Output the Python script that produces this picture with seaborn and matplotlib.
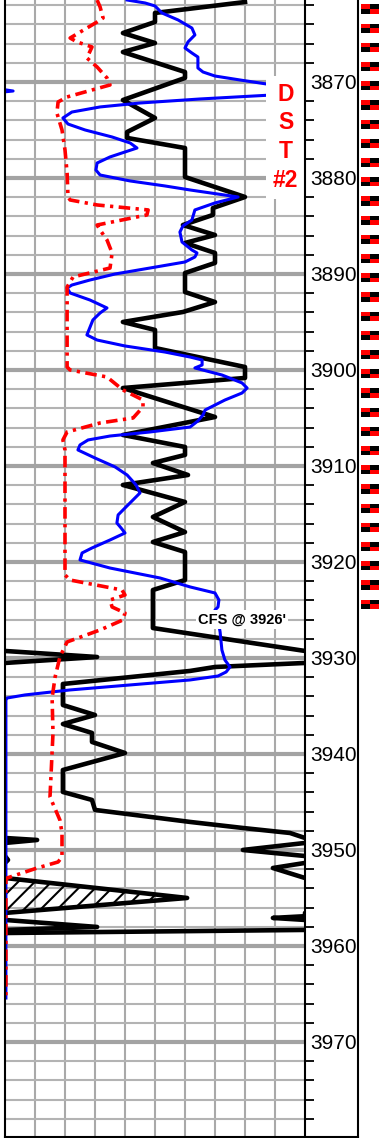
import numpy as np
import pandas as pd
import seaborn as sns
import matplotlib
matplotlib.use("Agg")
import matplotlib.pyplot as plt
from matplotlib.ticker import FixedLocator, MultipleLocator

# depth window of the log section (ft)
DEPTH_TOP = 3861.46
DEPTH_BOT = 3979.9

# black curve: depth (ft) and reading in track divisions (0-10, >10 wraps to backup)
black_depth = [3861.67, 3862.81, 3863.75, 3864.90, 3865.94, 3866.88, 3868.96, 3869.58,
               3871.88, 3873.75, 3875.21, 3875.83, 3876.88, 3879.90, 3881.98, 3883.13,
               3883.85, 3884.90, 3885.94, 3886.77, 3887.81, 3888.85, 3889.90, 3891.88,
               3892.92, 3893.96, 3895.00, 3895.83, 3897.71, 3899.69, 3900.83, 3901.88,
               3904.90, 3906.77, 3908.02, 3908.85, 3909.69, 3910.94, 3911.98, 3913.75,
               3915.31, 3916.88, 3917.92, 3918.96, 3921.88, 3922.92, 3926.88, 3929.27,
               3929.90, 3930.52, 3930.94, 3931.35, 3932.71, 3934.90, 3935.94, 3936.88,
               3937.81, 3938.75, 3939.90, 3941.67, 3943.96, 3944.79, 3945.83, 3947.08,
               3947.71, 3948.23, 3948.75, 3948.96, 3949.27, 3950.00, 3950.63, 3951.04,
               3951.35, 3951.88, 3952.92, 3955.00, 3956.56, 3956.90, 3957.08, 3957.29,
               3958.02, 3958.33, 3958.65]
black_value = [8.00, 5.00, 5.00, 3.93, 5.00, 3.93, 6.00, 6.00,
               3.93, 5.00, 4.07, 4.07, 6.00, 6.00, 8.00, 6.93,
               6.93, 5.93, 7.00, 6.00, 7.00, 7.00, 6.00, 6.00,
               7.00, 5.93, 3.93, 5.00, 5.00, 8.00, 8.00, 3.93,
               7.00, 3.93, 6.00, 6.00, 4.93, 6.10, 3.93, 6.00,
               4.93, 6.00, 4.93, 6.00, 6.00, 4.93, 4.93, 10.00,
               13.07, 10.00, 7.00, 6.17, 1.93, 1.93, 3.00, 1.93,
               2.90, 2.90, 4.00, 1.93, 1.93, 2.90, 3.00, 6.17,
               7.93, 9.50, 10.00, 11.07, 10.00, 7.93, 10.00, 10.10,
               10.00, 8.93, 10.00, 16.07, 10.00, 10.00, 8.93, 10.00,
               13.07, 10.00, 0.00]

# blue curve
blue_depth = [3861.46, 3861.77, 3862.08, 3862.81, 3863.54, 3864.38, 3865.10, 3865.83,
              3866.46, 3866.98, 3867.40, 3868.54, 3868.96, 3869.38, 3869.79, 3870.31,
              3870.94, 3871.35, 3871.77, 3872.19, 3872.60, 3873.13, 3873.75, 3874.38,
              3875.00, 3875.73, 3876.35, 3876.88, 3877.29, 3877.81, 3878.44, 3879.17,
              3879.69, 3880.31, 3880.83, 3881.25, 3881.98, 3882.60, 3883.33, 3884.38,
              3885.00, 3885.63, 3886.67, 3887.50, 3887.81, 3888.23, 3888.75, 3889.38,
              3890.00, 3890.63, 3891.15, 3891.46, 3891.98, 3892.71, 3893.54, 3894.06,
              3894.79, 3896.35, 3896.88, 3897.50, 3898.13, 3898.65, 3898.96, 3899.48,
              3899.79, 3900.52, 3901.35, 3901.88, 3902.40, 3903.13, 3904.17, 3904.69,
              3905.31, 3905.94, 3906.46, 3906.88, 3907.29, 3907.81, 3908.33, 3909.17,
              3910.10, 3910.94, 3911.98, 3912.81, 3914.06, 3915.10, 3915.94, 3916.46,
              3916.98, 3917.71, 3918.54, 3919.06, 3919.79, 3920.63, 3921.67, 3922.60,
              3923.23, 3923.96, 3924.69, 3925.00, 3926.04, 3927.29, 3929.17, 3930.21,
              3930.94, 3931.46, 3931.88, 3932.29, 3932.81, 3933.33, 3933.85, 3934.17,
              3934.38, 3965.42]
blue_value = [4.07, 4.67, 5.00, 5.23, 5.77, 6.23, 6.33, 6.10,
              6.00, 6.23, 6.43, 6.43, 6.60, 7.00, 7.83, 8.93,
              10.27, 8.93, 6.50, 4.50, 3.17, 2.23, 1.93, 2.10,
              2.67, 3.57, 4.17, 4.40, 4.00, 3.50, 3.07, 3.03,
              3.17, 4.17, 5.33, 6.17, 7.77, 7.00, 6.33, 6.23,
              5.93, 5.83, 5.90, 6.23, 6.40, 6.33, 6.00, 4.83,
              3.67, 2.83, 2.23, 2.07, 2.17, 2.83, 3.40, 3.17,
              2.93, 2.73, 3.07, 4.00, 5.33, 6.17, 6.57, 6.57,
              6.33, 7.23, 7.90, 8.07, 7.90, 7.33, 6.67, 6.60,
              6.43, 6.17, 4.83, 3.50, 2.77, 2.50, 2.43, 3.00,
              3.67, 4.07, 4.37, 4.50, 4.10, 3.77, 3.73, 3.87,
              4.00, 3.50, 2.90, 2.57, 2.50, 3.50, 5.17, 6.17,
              7.00, 7.13, 7.10, 7.00, 7.10, 7.17, 7.23, 7.33,
              7.50, 7.37, 7.10, 6.17, 4.17, 2.17, 0.67, 0.07,
              0.03, 0.03]

# red dash-dot curve
red_depth = [3861.46, 3862.19, 3863.33, 3863.75, 3865.42, 3865.83, 3866.35, 3867.50,
             3868.44, 3869.58, 3870.31, 3871.56, 3872.08, 3873.23, 3875.00, 3877.08,
             3879.48, 3881.98, 3882.29, 3882.81, 3883.33, 3883.85, 3884.90, 3885.42,
             3886.46, 3887.81, 3889.38, 3890.31, 3891.35, 3899.69, 3900.00, 3900.73,
             3902.08, 3903.13, 3903.85, 3905.00, 3905.52, 3906.46, 3907.29, 3908.33,
             3921.35, 3921.88, 3922.92, 3923.44, 3923.96, 3924.69, 3925.31, 3926.04,
             3927.08, 3928.33, 3929.90, 3931.98, 3934.17, 3937.81, 3944.48, 3946.88,
             3948.23, 3950.73, 3951.25, 3951.88, 3952.92, 3953.13, 3965.42]
red_value = [3.07, 3.17, 3.27, 3.07, 2.17, 2.40, 2.90, 2.73,
             3.07, 3.40, 3.50, 2.07, 1.77, 1.73, 1.90, 2.00,
             2.07, 2.10, 2.17, 3.07, 4.77, 4.73, 3.07, 3.17,
             3.40, 3.57, 3.50, 2.27, 2.07, 2.07, 2.17, 3.40,
             3.93, 4.60, 4.60, 4.27, 3.17, 2.07, 1.93, 2.00,
             2.00, 2.17, 3.90, 4.00, 3.50, 3.57, 4.00, 3.93,
             3.17, 2.07, 1.83, 1.67, 1.57, 1.60, 1.50, 1.83,
             1.90, 1.90, 1.77, 1.07, 0.07, 0.03, 0.03]

# hatched interval of the black backup trace (ft)
hatch_top, hatch_base = 3952.5, 3956.8

# checkered markers in the right strip (centre depth, ft)
marker_depth = [3860.4, 3862.4, 3864.4, 3866.4, 3868.4, 3870.4, 3872.4, 3874.4,
                3876.4, 3878.4, 3880.4, 3882.4, 3884.4, 3886.4, 3888.4, 3890.4,
                3892.4, 3894.4, 3896.4, 3898.4, 3900.4, 3902.4, 3904.4, 3906.4,
                3908.4, 3910.4, 3912.4, 3914.4, 3916.4, 3918.4, 3920.4, 3922.4,
                3924.4]

depth_labels = [3870, 3880, 3890, 3900, 3910, 3920, 3930, 3940, 3950, 3960, 3970]

plt.rcParams['font.family'] = ['Liberation Sans', 'DejaVu Sans']
plt.rcParams['hatch.linewidth'] = 1.5

fig = plt.figure(figsize=(3.8, 11.38), dpi=100)
W, H = 380.0, 1138.0
ax = fig.add_axes([5 / W, 1 / H, 300 / W, 1137 / H])
ax_d = fig.add_axes([305 / W, 1 / H, 53 / W, 1137 / H])
ax_m = fig.add_axes([358 / W, 1 / H, 22 / W, 1137 / H])

black = pd.DataFrame({'depth': black_depth, 'value': black_value})
blue = pd.DataFrame({'depth': blue_depth, 'value': blue_value})
red = pd.DataFrame({'depth': red_depth, 'value': red_value})

# grid
ax.set_xlim(0, 10)
ax.set_ylim(DEPTH_BOT, DEPTH_TOP)
ax.xaxis.set_major_locator(FixedLocator(range(1, 10)))
ax.yaxis.set_major_locator(FixedLocator(depth_labels))
ax.yaxis.set_minor_locator(MultipleLocator(2))
ax.set_axisbelow(True)
ax.grid(axis='x', color='#a9a9a9', lw=1.5)
ax.grid(axis='y', which='major', color='#a3a3a3', lw=3.0)
ax.grid(axis='y', which='minor', color='#b3b3b3', lw=1.5)
ax.tick_params(axis='x', length=0, labelbottom=False)
ax.yaxis.tick_right()
ax.tick_params(axis='y', which='major', length=0, pad=4, labelsize=15, labelcolor='black')
ax.tick_params(axis='y', which='minor', length=6.5, width=1.3, color='black', direction='out')

# curves (main trace + wrapped backup trace)
sns.lineplot(data=black, x='value', y='depth', orient='y', sort=False, estimator=None,
             color='black', lw=3.3, ax=ax, zorder=2)
sns.lineplot(data=black.assign(value=black['value'] - 10), x='value', y='depth', orient='y',
             sort=False, estimator=None, color='black', lw=3.3, ax=ax, zorder=2)
bk = black['value'] - 10
in_zone = (black['depth'] >= hatch_top) & (black['depth'] <= hatch_base)
ax.fill_betweenx(black['depth'], 0, bk, where=(bk >= 0) & in_zone, interpolate=True,
                 facecolor='none', edgecolor='black', hatch='//', lw=0)

sns.lineplot(data=blue, x='value', y='depth', orient='y', sort=False, estimator=None,
             color='#0000ff', lw=2.2, ax=ax, zorder=2.1)
sns.lineplot(data=blue.assign(value=blue['value'] - 10), x='value', y='depth', orient='y',
             sort=False, estimator=None, color='#0000ff', lw=2.2, ax=ax, zorder=2.1)
sns.lineplot(data=red, x='value', y='depth', orient='y', sort=False, estimator=None,
             color='#ff0000', lw=2.6, linestyle=(0, (3.2, 1.5, 0.9, 1.5)), ax=ax, zorder=2.2)

ax.set_xlabel('')
ax.set_ylabel('')

# annotations
ax.text(9.36, 3875.75, 'D\nS\nT\n#2', color='#ff0000', fontsize=16.5, fontweight='bold',
        ha='center', va='center', multialignment='center', linespacing=1.32, zorder=2.4,
        bbox=dict(boxstyle='square,pad=0.3', facecolor='white', edgecolor='none'))
ax.text(7.9, 3926.0, "CFS @ 3926'", color='black', fontsize=10.5, fontweight='bold',
        ha='center', va='center', zorder=2.4,
        bbox=dict(boxstyle='square,pad=0.15', facecolor='white', edgecolor='none'))

for s in ['left', 'right', 'bottom']:
    ax.spines[s].set_color('black')
    ax.spines[s].set_linewidth(1.5)
ax.spines['top'].set_visible(False)

# depth column
ax_d.patch.set_visible(False)
ax_d.set_xticks([])
ax_d.set_yticks([])
for s in ['left', 'top']:
    ax_d.spines[s].set_visible(False)
for s in ['right', 'bottom']:
    ax_d.spines[s].set_color('black')
    ax_d.spines[s].set_linewidth(1.5)

# marker strip
ax_m.set_xlim(0, 1)
ax_m.set_ylim(DEPTH_BOT, DEPTH_TOP)
ax_m.axis('off')
half = 0.24
ax_m.barh([d - half for d in marker_depth], 0.41, left=0.136, height=0.485, color='#ff0000')
ax_m.barh([d - half for d in marker_depth], 0.41, left=0.546, height=0.485, color='black')
ax_m.barh([d + half for d in marker_depth], 0.41, left=0.136, height=0.485, color='black')
ax_m.barh([d + half for d in marker_depth], 0.41, left=0.546, height=0.485, color='#ff0000')

fig.savefig('out.png', dpi=100)
